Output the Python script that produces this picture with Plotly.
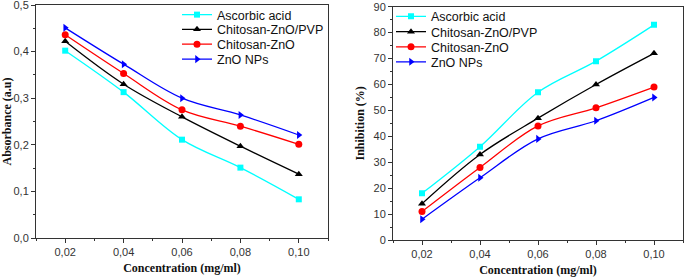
import plotly.graph_objects as go

conc = [0.02, 0.04, 0.06, 0.08, 0.10]
series_names = ["Ascorbic acid", "Chitosan-ZnO/PVP", "Chitosan-ZnO", "ZnO NPs"]
absorbance = {
    "Ascorbic acid": [0.402, 0.313, 0.211, 0.151, 0.083],
    "Chitosan-ZnO/PVP": [0.422, 0.330, 0.260, 0.197, 0.137],
    "Chitosan-ZnO": [0.436, 0.353, 0.275, 0.240, 0.201],
    "ZnO NPs": [0.451, 0.373, 0.300, 0.264, 0.221],
}
inhibition = {
    "Ascorbic acid": [18, 36, 57, 69, 83],
    "Chitosan-ZnO/PVP": [14, 33, 47, 60, 72],
    "Chitosan-ZnO": [11, 28, 44, 51, 59],
    "ZnO NPs": [8, 24, 39, 46, 55],
}
colors = {"Ascorbic acid": "#00FFFF", "Chitosan-ZnO/PVP": "#000000",
          "Chitosan-ZnO": "#FF0000", "ZnO NPs": "#0000FF"}
symbols = {"Ascorbic acid": "square", "Chitosan-ZnO/PVP": "triangle-up",
           "Chitosan-ZnO": "circle", "ZnO NPs": "triangle-right"}
msizes = {"Ascorbic acid": 6, "Chitosan-ZnO/PVP": 7, "Chitosan-ZnO": 7, "ZnO NPs": 7}

W, H = 685, 279
def fx(p): return p / W
def fy(p): return 1 - p / H

# legend text-centre positions (pixels) for each panel
left_leg_y = [15, 29.7, 44.5, 59.5]
right_leg_y = [16.7, 32, 47.2, 62.2]
legend_font = dict(family="Liberation Sans, Arial", size=12.5, color="#111")

fig = go.Figure()
legend_layouts = {}
k = 0
for panel, data, xa, ya, lx, lys in [
    ("L", absorbance, "x", "y", 177, left_leg_y),
    ("R", inhibition, "x2", "y2", 391, right_leg_y),
]:
    for i, name in enumerate(series_names):
        k += 1
        lname = "legend" if k == 1 else f"legend{k}"
        fig.add_trace(go.Scatter(x=conc, y=data[name], name=name, mode="lines+markers",
                                 line=dict(color=colors[name], width=1.3, shape="spline", smoothing=1.0),
                                 marker=dict(symbol=symbols[name], size=msizes[name], color=colors[name]),
                                 xaxis=xa, yaxis=ya, legend=lname, showlegend=True))
        legend_layouts[lname] = dict(x=fx(lx), y=fy(lys[i]), xanchor="left", yanchor="middle",
                                     bgcolor="rgba(0,0,0,0)", font=legend_font,
                                     borderwidth=0, visible=True)

axis_common = dict(showline=True, linecolor="#333", linewidth=1, mirror=True,
                   ticks="outside", ticklen=4, tickcolor="#333", showgrid=False,
                   zeroline=False, automargin=False, ticklabeloverflow="allow",
                   tickfont=dict(family="Liberation Sans, Arial", size=11, color="#333"))
title_font = dict(family="Liberation Serif, Times New Roman", size=12, color="#111")

fig.update_layout(
    width=W, height=H, margin=dict(l=0, r=0, t=0, b=0, autoexpand=False),
    paper_bgcolor="white", plot_bgcolor="white", separators=",.", showlegend=True,
    xaxis=dict(domain=[fx(36), fx(328)], range=[0.01, 0.11], tickvals=conc, tickformat=".2f",
               minor=dict(ticks="outside", ticklen=2, dtick=0.01, tick0=0.01, tickcolor="#333"),
               title=dict(text="<b>Concentration (mg/ml)</b>", font=title_font, standoff=6),
               anchor="y", **axis_common),
    yaxis=dict(domain=[fy(238), fy(5)], range=[0, 0.5], tickvals=[0, 0.1, 0.2, 0.3, 0.4, 0.5],
               tickformat=".1f",
               minor=dict(ticks="outside", ticklen=2, dtick=0.05, tickcolor="#333"),
               title=dict(text="<b>Absorbance (a.u)</b>", font=title_font, standoff=7),
               anchor="x", **axis_common),
    xaxis2=dict(domain=[fx(393), fx(683)], range=[0.01, 0.11], tickvals=conc, tickformat=".2f",
                minor=dict(ticks="outside", ticklen=2, dtick=0.01, tick0=0.01, tickcolor="#333"),
                title=dict(text="<b>Concentration (mg/ml)</b>", font=title_font, standoff=6),
                anchor="y2", **axis_common),
    yaxis2=dict(domain=[fy(240), fy(6.7)], range=[0, 90], dtick=10,
                minor=dict(ticks="outside", ticklen=2, dtick=5, tickcolor="#333"),
                title=dict(text="<b>Inhibition (%)</b>", font=title_font, standoff=6),
                anchor="x2", **axis_common),
    **legend_layouts,
)

fig.write_html("out.html", config={"displayModeBar": False},
               post_script="document.body.style.margin='0';document.body.style.overflow='hidden';")
